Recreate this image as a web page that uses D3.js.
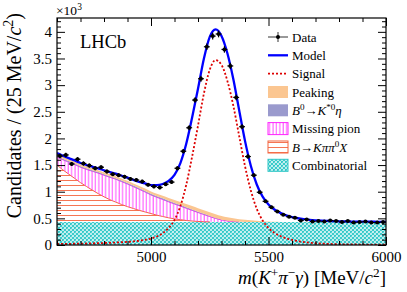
<!DOCTYPE html>
<html>
<head>
<meta charset="utf-8">
<script src="https://cdn.jsdelivr.net/npm/d3@7/dist/d3.min.js"></script>
<style>
  body { margin: 0; background: #fff; }
  svg text { font-family: "Liberation Serif", "Times New Roman", Times, serif; fill: #000; }
</style>
</head>
<body>
<div id="chart"></div>
<script>
// fit curves sampled every 25 MeV from 4600 to 6000 (x10^3 candidates)
var massMin = 4600, massMax = 6000, step = 25;
var comb = [0.43,0.43,0.43,0.43,0.43,0.43,0.43,0.43,0.43,0.43,0.43,0.43,0.43,0.43,0.43,0.43,0.43,0.43,0.43,0.43,
            0.43,0.43,0.43,0.43,0.43,0.43,0.43,0.43,0.43,0.43,0.43,0.43,0.43,0.43,0.43,0.43,0.43,0.43,0.43,0.43,
            0.43,0.43,0.43,0.43,0.43,0.43,0.43,0.43,0.43,0.43,0.43,0.43,0.43,0.43,0.43,0.43,0.43];
var kpipi = [1.07,0.98,0.90,0.82,0.74,0.67,0.60,0.535,0.475,0.42,0.375,0.33,0.29,0.255,0.22,0.19,0.16,0.13,0.105,0.08,
             0.06,0.045,0.03,0.02,0.012,0.007,0.004,0.002,0.001,0,0,0,0,0,0,0,0,0,0,0,
             0,0,0,0,0,0,0,0,0,0,0,0,0,0,0,0,0];
var missPion = [0.15,0.19,0.225,0.26,0.29,0.32,0.355,0.385,0.405,0.42,0.43,0.43,0.425,0.41,0.395,0.375,0.35,0.335,0.32,0.30,
                0.28,0.255,0.23,0.20,0.168,0.135,0.10,0.066,0.04,0.022,0.011,0.005,0.002,0,0,0,0,0,0,0,
                0,0,0,0,0,0,0,0,0,0,0,0,0,0,0,0,0];
var kstEta = [0.02,0.02,0.02,0.02,0.02,0.02,0.02,0.02,0.02,0.02,0.02,0.02,0.02,0.02,0.02,0.02,0.02,0.02,0.02,0.02,
              0.02,0.02,0.019,0.018,0.016,0.014,0.011,0.008,0.005,0.003,0.001,0,0,0,0,0,0,0,0,0,
              0,0,0,0,0,0,0,0,0,0,0,0,0,0,0,0,0];
var peaking = [0.035,0.034,0.033,0.033,0.033,0.033,0.034,0.034,0.035,0.036,0.037,0.038,0.039,0.04,0.041,0.043,0.045,0.047,0.049,0.052,
               0.055,0.058,0.061,0.064,0.066,0.068,0.07,0.07,0.068,0.064,0.058,0.05,0.042,0.033,0.025,0.017,0.011,0.006,0.003,0.001,
               0,0,0,0,0,0,0,0,0,0,0,0,0,0,0,0,0];
var signal = [0.02,0.021,0.022,0.024,0.026,0.028,0.031,0.034,0.037,0.041,0.046,0.052,0.059,0.068,0.08,0.097,0.12,0.16,0.22,0.32,
              0.47,0.73,1.13,1.66,2.24,2.84,3.29,3.47,3.38,3.08,2.62,2.05,1.48,1.02,0.68,0.46,0.32,0.23,0.17,0.125,
              0.095,0.072,0.055,0.043,0.034,0.027,0.022,0.018,0.015,0.012,0.01,0.009,0.008,0.007,0.006,0.005,0.005];
// data, one value per 25 MeV bin (centres 4612.5 ... 5987.5)
var dataCounts = [1.67,1.69,1.52,1.61,1.53,1.49,1.44,1.46,1.38,1.33,1.31,1.28,1.24,1.22,1.19,1.13,1.10,1.08,1.14,1.18,
                  1.44,1.76,2.20,2.72,3.12,3.72,3.92,3.96,3.67,3.36,2.77,2.22,1.66,1.31,0.99,0.82,0.71,0.63,0.57,0.53,
                  0.51,0.46,0.48,0.44,0.45,0.44,0.46,0.45,0.43,0.45,0.42,0.43,0.44,0.42,0.42,0.43];
var yMajor = [0,0.5,1,1.5,2,2.5,3,3.5,4];
var xMajor = [5000,5500,6000];

var margin = {top: 18, right: 21, bottom: 47, left: 57},
    width = 407 - margin.left - margin.right,
    height = 292 - margin.top - margin.bottom;

var svg = d3.select("#chart").append("svg")
    .attr("width", 407).attr("height", 292);
var defs = svg.append("defs");

var vh = defs.append("pattern").attr("id", "vhatch").attr("patternUnits", "userSpaceOnUse")
    .attr("width", 3.4).attr("height", 4);
vh.append("line").attr("x1", 1).attr("x2", 1).attr("y1", 0).attr("y2", 4)
    .attr("stroke", "#ff33ff").attr("stroke-width", 0.9);
var hh = defs.append("pattern").attr("id", "hhatch").attr("patternUnits", "userSpaceOnUse")
    .attr("width", 4).attr("height", 5);
hh.append("line").attr("x1", 0).attr("x2", 4).attr("y1", 2.5).attr("y2", 2.5)
    .attr("stroke", "#f4653f").attr("stroke-width", 0.9);
var cr = defs.append("pattern").attr("id", "cross").attr("patternUnits", "userSpaceOnUse")
    .attr("width", 4).attr("height", 4);
cr.append("rect").attr("width", 4).attr("height", 4).attr("fill", "#ffffff");
cr.append("path").attr("d", "M0,0L4,4M4,0L0,4M-1,3L1,5M3,-1L5,1M-1,1L1,-1M3,5L5,3")
    .attr("stroke", "#33c9c9").attr("stroke-width", 1.2);
defs.append("clipPath").attr("id", "plotclip").append("rect")
    .attr("width", width).attr("height", height);

var g = svg.append("g").attr("transform", "translate(" + margin.left + "," + margin.top + ")");

var x = d3.scaleLinear().domain([massMin, massMax]).range([0, width]);
var y = d3.scaleLinear().domain([0, 4.26]).range([height, 0]);

// stack the components
var grid = comb.map(function(d, i) { return massMin + i * step; });
var s0 = comb.slice();
var s1 = s0.map(function(d, i) { return d + kpipi[i]; });
var s2 = s1.map(function(d, i) { return d + missPion[i]; });
var s3 = s2.map(function(d, i) { return d + kstEta[i]; });
var s4 = s3.map(function(d, i) { return d + peaking[i]; });
var model = s4.map(function(d, i) { return d + signal[i]; });

var plot = g.append("g").attr("clip-path", "url(#plotclip)");

function band(lo, hi) {
    return d3.area()
        .x(function(d, i) { return x(grid[i]); })
        .y0(function(d, i) { return lo ? y(lo[i]) : y(0); })
        .y1(function(d, i) { return y(hi[i]); })
        .curve(d3.curveMonotoneX)(grid);
}
function edge(vals, comp) {
    return d3.line()
        .defined(function(d, i) { return comp[i] > 0.003; })
        .x(function(d, i) { return x(grid[i]); })
        .y(function(d, i) { return y(vals[i]); })
        .curve(d3.curveMonotoneX)(grid);
}

plot.append("path").attr("d", band(null, s0)).attr("fill", "url(#cross)");
plot.append("path").attr("d", band(s0, s1)).attr("fill", "url(#hhatch)");
plot.append("path").attr("d", edge(s1, kpipi)).attr("fill", "none").attr("stroke", "#f4653f").attr("stroke-width", 1);
plot.append("path").attr("d", band(s1, s2)).attr("fill", "url(#vhatch)");
plot.append("path").attr("d", edge(s2, missPion)).attr("fill", "none").attr("stroke", "#ee22ee").attr("stroke-width", 1);
plot.append("path").attr("d", band(s2, s3)).attr("fill", "#9a9acd");
plot.append("path").attr("d", band(s3, s4)).attr("fill", "#fbc691");

var curve = d3.line()
    .x(function(d, i) { return x(grid[i]); })
    .y(function(d) { return y(d); })
    .curve(d3.curveMonotoneX);

plot.append("path").attr("d", curve(signal)).attr("fill", "none")
    .attr("stroke", "#dd0000").attr("stroke-width", 1.8).attr("stroke-dasharray", "2,2");
plot.append("path").attr("d", curve(model)).attr("fill", "none")
    .attr("stroke", "#0000ff").attr("stroke-width", 2.3);

// data points
var pts = plot.selectAll(".pt").data(dataCounts).enter().append("g").attr("class", "pt");
pts.append("line")
    .attr("x1", function(d, i) { return x(massMin + i * step); })
    .attr("x2", function(d, i) { return x(massMin + (i + 1) * step); })
    .attr("y1", function(d) { return y(d); }).attr("y2", function(d) { return y(d); })
    .attr("stroke", "#000").attr("stroke-width", 1.2);
pts.append("line")
    .attr("x1", function(d, i) { return x(massMin + (i + 0.5) * step); })
    .attr("x2", function(d, i) { return x(massMin + (i + 0.5) * step); })
    .attr("y1", function(d) { return y(d + Math.sqrt(d * 1000) / 1000); })
    .attr("y2", function(d) { return y(d - Math.sqrt(d * 1000) / 1000); })
    .attr("stroke", "#000").attr("stroke-width", 1.2);
pts.append("circle")
    .attr("cx", function(d, i) { return x(massMin + (i + 0.5) * step); })
    .attr("cy", function(d) { return y(d); })
    .attr("r", 2).attr("fill", "#000");

// axes, ROOT style ticks pointing inwards on all four sides
var yMinor = d3.range(0, 4.26, 0.1).filter(function(v) { return Math.abs(v * 2 - Math.round(v * 2)) > 0.01; });
var xMinor = d3.range(4600, 6001, 100).filter(function(v) { return v % 500 !== 0; });

function styleAxis(sel) {
    sel.attr("font-family", null);
    sel.select(".domain").remove();
    sel.selectAll("line").attr("stroke", "#000").attr("stroke-width", 1);
    sel.selectAll("text").attr("font-size", 15);
}
g.append("g").call(d3.axisLeft(y).tickValues(yMajor).tickSize(-8).tickPadding(5)
    .tickFormat(function(d) { return String(d); })).call(styleAxis);
g.append("g").call(d3.axisLeft(y).tickValues(yMinor).tickSize(-4).tickFormat("")).call(styleAxis);
g.append("g").attr("transform", "translate(" + width + ",0)")
    .call(d3.axisRight(y).tickValues(yMajor).tickSize(-8).tickFormat("")).call(styleAxis);
g.append("g").attr("transform", "translate(" + width + ",0)")
    .call(d3.axisRight(y).tickValues(yMinor).tickSize(-4).tickFormat("")).call(styleAxis);
g.append("g").attr("transform", "translate(0," + height + ")")
    .call(d3.axisBottom(x).tickValues(xMajor).tickSize(-8).tickPadding(6).tickFormat(d3.format("d"))).call(styleAxis);
g.append("g").attr("transform", "translate(0," + height + ")")
    .call(d3.axisBottom(x).tickValues(xMinor).tickSize(-4).tickFormat("")).call(styleAxis);
g.append("g").call(d3.axisTop(x).tickValues(xMajor).tickSize(-8).tickFormat("")).call(styleAxis);
g.append("g").call(d3.axisTop(x).tickValues(xMinor).tickSize(-4).tickFormat("")).call(styleAxis);
g.append("rect").attr("width", width).attr("height", height)
    .attr("fill", "none").attr("stroke", "#000").attr("stroke-width", 1.2);

// rich text helper: parts are [text, italic?, sup?]
function rich(sel, parts, size) {
    var shifted = false;
    parts.forEach(function(p) {
        var ts = sel.append("tspan").text(p[0]);
        if (p[1]) ts.attr("font-style", "italic");
        if (p[2] && !shifted) { ts.attr("dy", -size * 0.38); shifted = true; }
        if (!p[2] && shifted) { ts.attr("dy", size * 0.38); shifted = false; }
        if (p[2]) ts.attr("font-size", size * 0.7);
    });
}

// titles
var xt = svg.append("text").attr("x", 386).attr("y", 284).attr("text-anchor", "end").attr("font-size", 19);
rich(xt, [["m", 1], ["(", 0], ["K", 1], ["+", 0, 1], ["π", 1], ["−", 0, 1], ["γ", 1], [") [MeV/", 0], ["c", 1], ["2", 0, 1], ["]", 0]], 19);
var yt = svg.append("text").attr("transform", "translate(21,13) rotate(-90)")
    .attr("text-anchor", "end").attr("font-size", 20);
rich(yt, [["Candidates / (25 MeV/", 0], ["c", 1], ["2", 0, 1], [")", 0]], 20);
var ex = svg.append("text").attr("x", 56).attr("y", 15).attr("font-size", 13.5);
rich(ex, [["×10", 0], ["3", 0, 1]], 13.5);
g.append("text").attr("x", 23).attr("y", 30).attr("font-size", 18.5).text("LHCb");

// legend
var legX = 268, legRows = [37, 55.3, 73.6, 92, 110.3, 128.6, 147, 165.3];
var leg = svg.append("g");
var entries = [
    {parts: [["Data", 0]], kind: "data"},
    {parts: [["Model", 0]], kind: "model"},
    {parts: [["Signal", 0]], kind: "signal"},
    {parts: [["Peaking", 0]], kind: "box", fill: "#fbc691", stroke: "none"},
    {parts: [["B", 1], ["0", 0, 1], ["→", 0], ["K", 1], ["*0", 0, 1], ["η", 1]], kind: "box", fill: "#9a9acd", stroke: "none"},
    {parts: [["Missing pion", 0]], kind: "box", fill: "url(#vhatch)", stroke: "#ff22ff"},
    {parts: [["B", 1], ["→", 0], ["K", 1], ["π", 1], ["π", 1], ["0", 0, 1], ["X", 1]], kind: "box", fill: "url(#hhatch)", stroke: "#f4653f"},
    {parts: [["Combinatorial", 0]], kind: "box", fill: "url(#cross)", stroke: "#2ec6c6"}
];
entries.forEach(function(e, i) {
    var cy = legRows[i];
    if (e.kind === "data") {
        leg.append("line").attr("x1", legX).attr("x2", legX + 20).attr("y1", cy).attr("y2", cy)
            .attr("stroke", "#555").attr("stroke-width", 1.2);
        leg.append("line").attr("x1", legX + 10).attr("x2", legX + 10).attr("y1", cy - 5).attr("y2", cy + 5)
            .attr("stroke", "#555").attr("stroke-width", 1.2);
        leg.append("circle").attr("cx", legX + 10).attr("cy", cy).attr("r", 2).attr("fill", "#000");
    } else if (e.kind === "model") {
        leg.append("line").attr("x1", legX).attr("x2", legX + 20).attr("y1", cy).attr("y2", cy)
            .attr("stroke", "#0000ff").attr("stroke-width", 2.3);
    } else if (e.kind === "signal") {
        leg.append("line").attr("x1", legX).attr("x2", legX + 20).attr("y1", cy).attr("y2", cy)
            .attr("stroke", "#dd0000").attr("stroke-width", 1.8).attr("stroke-dasharray", "2,2");
    } else {
        leg.append("rect").attr("x", legX).attr("y", cy - 6).attr("width", 20).attr("height", 12)
            .attr("fill", e.fill).attr("stroke", e.stroke).attr("stroke-width", 1);
    }
    var t = leg.append("text").attr("x", legX + 24).attr("y", cy + 4.5).attr("font-size", 13);
    rich(t, e.parts, 13);
});
</script>
</body>
</html>
